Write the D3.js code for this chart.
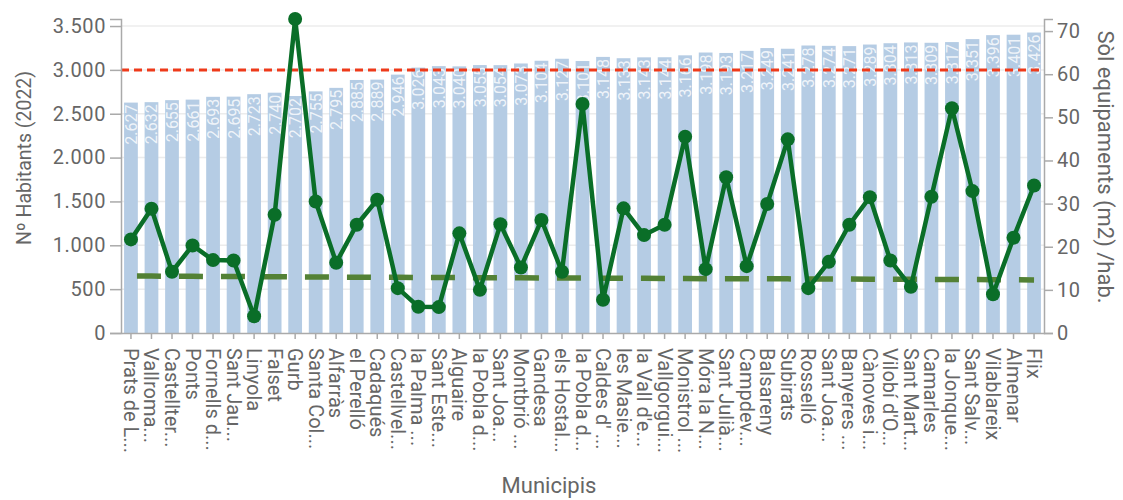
<!DOCTYPE html>
<html>
<head>
<meta charset="utf-8">
<script src="https://cdn.jsdelivr.net/npm/d3@7"></script>
<style>
    body { margin: 0; background: #fff; }
    svg text { font-family: Roboto, 'Noto Sans', sans-serif; }
</style>
</head>
<body>
<svg id="chart" width="1123" height="500"></svg>
<script>
// municipis (labels already truncated like the original)
const municipis = [
    'Prats de L...', 'Vallroma...', 'Castellter...', 'Ponts', 'Fornells d...', 'Sant Jau...',
    'Linyola', 'Falset', 'Gurb', 'Santa Col...', 'Alfarràs', 'el Perelló', 'Cadaqués',
    'Castellvel...', 'la Palma ...', 'Sant Este...', 'Alguaire', 'la Pobla d...', 'Sant Joa...',
    'Montbrió ...', 'Gandesa', 'els Hostal...', 'la Pobla d...', 'Caldes d\' ...', 'les Masie...',
    'la Vall d\'e...', 'Vallgorgui...', 'Monistrol ...', 'Móra la N...', 'Sant Julià...', 'Campdev...',
    'Balsareny', 'Subirats', 'Rosselló', 'Sant Joa...', 'Banyeres ...', 'Cànoves i...',
    'Vilobí d\'O...', 'Sant Mart...', 'Camarles', 'la Jonque...', 'Sant Salv...', 'Vilablareix',
    'Almenar', 'Flix',
];

// Nº habitants (2022)
const habitants = [
    2627, 2632, 2655, 2661, 2693, 2695, 2723, 2740, 2702, 2755, 2795, 2885, 2889,
    2946, 3026, 3043, 3040, 3055, 3054, 3073, 3104, 3127, 3101, 3148, 3133,
    3143, 3144, 3166, 3198, 3193, 3217, 3249, 3241, 3278, 3274, 3271, 3289,
    3304, 3313, 3309, 3317, 3351, 3396, 3401, 3426,
];

// sòl equipaments (m2) / hab.
const solEquipaments = [
    21.7, 28.8, 14.2, 20.3, 16.9, 16.8, 3.9, 27.4, 72.8, 30.5, 16.3, 25.1, 30.9,
    10.4, 6.1, 6.0, 23.1, 10.0, 25.2, 15.2, 26.2, 14.2, 53.1, 7.7, 28.9,
    22.7, 25.1, 45.5, 14.8, 36.1, 15.5, 29.9, 44.9, 10.4, 16.5, 25.1, 31.5,
    16.8, 10.7, 31.6, 52.1, 32.9, 9.0, 22.1, 34.2,
];

// referència (m2) / hab.
const referencia = [
    13.2, 13.2, 13.15, 13.15, 13.1, 13.1, 13.05, 13.05, 13.0, 13.0, 12.95, 12.95, 12.9,
    12.9, 12.85, 12.85, 12.85, 12.8, 12.8, 12.8, 12.75, 12.75, 12.75, 12.7, 12.7,
    12.7, 12.65, 12.65, 12.6, 12.6, 12.6, 12.55, 12.55, 12.5, 12.5, 12.5, 12.45,
    12.45, 12.45, 12.4, 12.4, 12.4, 12.35, 12.35, 12.3,
];

const llindarHabitants = 3000;
const leftTicks = [0, 500, 1000, 1500, 2000, 2500, 3000, 3500];
const rightTicks = [0, 10, 20, 30, 40, 50, 60, 70];

const data = municipis.map((nom, i) => ({
    i: i,
    nom: nom,
    hab: habitants[i],
    sol: solEquipaments[i],
    ref: referencia[i],
}));

const svg = d3.select('#chart');
const plotLeft = 121;
const plotRight = 1044;
const plotTop = 19;
const plotBottom = 333;
const textColor = '#666';

const locale = d3.formatLocale({ decimal: ',', thousands: '.', grouping: [3], currency: ['', '€'] });
const fmt = locale.format(',d');

const x = d3.scaleBand()
    .domain(data.map((d) => d.i))
    .range([plotLeft, plotRight])
    .paddingInner(0.33)
    .paddingOuter(0.15);

const yLeft = d3.scaleLinear()
    .domain([0, d3.max(habitants) * 1.045])
    .range([plotBottom, plotTop]);

const yRight = d3.scaleLinear()
    .domain([0, d3.max(solEquipaments)])
    .range([plotBottom, plotTop]);

// grid
svg.append('g')
    .selectAll('line')
    .data(leftTicks.slice(1))
    .enter()
    .append('line')
    .attr('x1', plotLeft)
    .attr('x2', plotRight)
    .attr('y1', (d) => yLeft(d))
    .attr('y2', (d) => yLeft(d))
    .style('stroke', '#ececec')
    .style('stroke-width', 1.5);

// bars
svg.append('g')
    .selectAll('rect')
    .data(data)
    .enter()
    .append('rect')
    .attr('x', (d) => x(d.i))
    .attr('y', (d) => yLeft(d.hab))
    .attr('width', x.bandwidth())
    .attr('height', (d) => plotBottom - yLeft(d.hab))
    .style('fill', '#b5cce4');

// bar labels
svg.append('g')
    .selectAll('text')
    .data(data)
    .enter()
    .append('text')
    .text((d) => fmt(d.hab))
    .attr('transform', (d) => `translate(${ x(d.i) + x.bandwidth() / 2 + 6 }, ${ yLeft(d.hab) + 2 }) rotate(-90)`)
    .style('text-anchor', 'end')
    .style('font-size', '16px')
    .style('fill', '#fff')
    .style('fill-opacity', 0.8);

// red threshold line
svg.append('line')
    .attr('x1', plotLeft)
    .attr('x2', plotRight)
    .attr('y1', yLeft(llindarHabitants))
    .attr('y2', yLeft(llindarHabitants))
    .style('stroke', '#ee3a1a')
    .style('stroke-width', 3)
    .style('stroke-dasharray', '8,5');

const cx = (d) => x(d.i) + x.bandwidth() / 2;

// reference dashed line
svg.append('path')
    .datum(data)
    .attr('d', d3.line().x(cx).y((d) => yRight(d.ref)))
    .style('fill', 'none')
    .style('stroke', '#538135')
    .style('stroke-width', 5.5)
    .style('stroke-dasharray', '24,18')
    .style('stroke-dashoffset', 36);

// equipaments line
svg.append('path')
    .datum(data)
    .attr('d', d3.line().x(cx).y((d) => yRight(d.sol)))
    .style('fill', 'none')
    .style('stroke', '#0a6e28')
    .style('stroke-width', 4.5)
    .style('stroke-linejoin', 'round');

svg.append('g')
    .selectAll('circle')
    .data(data)
    .enter()
    .append('circle')
    .attr('cx', cx)
    .attr('cy', (d) => yRight(d.sol))
    .attr('r', 7)
    .style('fill', '#0a6e28');

// axes
function styleAxis(g) {
    g.selectAll('path, line').style('stroke', '#aaa').style('stroke-width', 1.5);
    g.selectAll('text').style('fill', textColor).style('font-size', '20px');
}

svg.append('g')
    .attr('transform', `translate(${ plotLeft }, 0)`)
    .call(d3.axisLeft(yLeft).tickValues(leftTicks).tickFormat(fmt).tickSize(11).tickPadding(4))
    .call(styleAxis)
    .selectAll('text')
    .style('letter-spacing', '0.6px');

svg.append('g')
    .attr('transform', `translate(${ plotRight }, 0)`)
    .call(d3.axisRight(yRight).tickValues(rightTicks).tickSize(9).tickPadding(4))
    .call(styleAxis)
    .selectAll('text')
    .style('letter-spacing', '0.6px');

const xAxis = svg.append('g')
    .attr('transform', `translate(0, ${ plotBottom })`)
    .call(d3.axisBottom(x).tickFormat((i) => municipis[i]).tickSize(6).tickSizeOuter(0))
    .call(styleAxis);

xAxis.selectAll('text')
    .attr('transform', 'rotate(90)')
    .attr('x', 15)
    .attr('y', 0)
    .attr('dy', '0.35em')
    .style('text-anchor', 'start');

// axis titles
svg.append('text')
    .text('Nº Habitants (2022)')
    .attr('transform', 'translate(31, 158) rotate(-90)')
    .style('text-anchor', 'middle')
    .style('font-size', '19.5px')
    .style('fill', textColor);

svg.append('text')
    .text('Sòl equipaments (m2) /hab.')
    .attr('transform', 'translate(1098, 167) rotate(90)')
    .style('text-anchor', 'middle')
    .style('font-size', '22px')
    .style('fill', textColor);

svg.append('text')
    .text('Municipis')
    .attr('x', 549)
    .attr('y', 493)
    .style('text-anchor', 'middle')
    .style('font-size', '22px')
    .style('fill', textColor);
</script>
</body>
</html>
